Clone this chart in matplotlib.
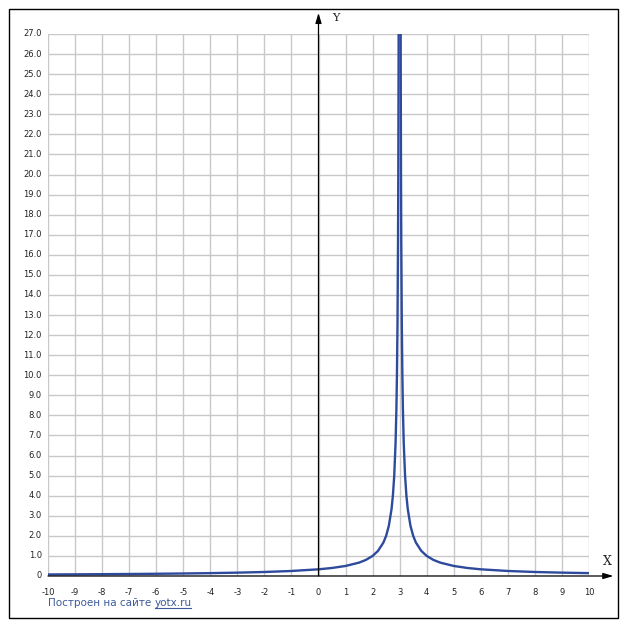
import matplotlib
matplotlib.use("Agg")
import matplotlib.pyplot as plt
from matplotlib.lines import Line2D
from matplotlib.patches import Rectangle

# points (left branch, then right branch of the spike at x=3)
x_left = [-10, -9, -8, -7, -6, -5, -4, -3, -2, -1, 0, 0.5, 1, 1.5, 1.75, 2,
          2.2, 2.4, 2.5, 2.6, 2.7, 2.75, 2.8, 2.85, 2.88, 2.9, 2.92, 2.94,
          2.95, 2.96, 2.963]
y_left = [0.077, 0.083, 0.091, 0.1, 0.111, 0.125, 0.143, 0.167, 0.2, 0.25,
          0.333, 0.4, 0.5, 0.667, 0.8, 1.0, 1.25, 1.667, 2.0, 2.5, 3.333, 4.0,
          5.0, 6.667, 8.333, 10.0, 12.5, 16.667, 20.0, 25.0, 27.0]
x_right = [3.037, 3.04, 3.05, 3.06, 3.08, 3.1, 3.12, 3.15, 3.2, 3.25, 3.3,
           3.4, 3.5, 3.6, 3.8, 4, 4.25, 4.5, 5, 5.5, 6, 7, 8, 9, 10]
y_right = [27.0, 25.0, 20.0, 16.667, 12.5, 10.0, 8.333, 6.667, 5.0, 4.0,
           3.333, 2.5, 2.0, 1.667, 1.25, 1.0, 0.8, 0.667, 0.5, 0.4, 0.333,
           0.25, 0.2, 0.167, 0.143]

x_ticks = list(range(-10, 11))
y_ticks = list(range(0, 28))
x_labels = [str(v) for v in x_ticks]
y_labels = ["0"] + ["%.1f" % v for v in y_ticks[1:]]

W, H = 627, 630
fig = plt.figure(figsize=(W / 100, H / 100), dpi=100)
fig.patch.set_facecolor("white")

# outer frame
fig.patches.append(Rectangle((9 / W, 12 / H), 609 / W, 609 / H,
                             transform=fig.transFigure, fill=False,
                             edgecolor="black", linewidth=1.0))

ax = fig.add_axes([48 / W, 54 / H, 541 / W, 542 / H])
ax.set_xlim(-10, 10)
ax.set_ylim(0, 27)
for s in ax.spines.values():
    s.set_visible(False)
ax.set_xticks(x_ticks)
ax.set_yticks(y_ticks)
ax.tick_params(length=0)
ax.set_xticklabels([])
ax.set_yticklabels([])
ax.grid(True, color="#c8c8c8", linewidth=1.0)
ax.set_axisbelow(True)

# tick labels
for v, lab in zip(x_ticks, x_labels):
    ax.annotate(lab, xy=(v, 0), xytext=(0, -12), textcoords="offset points",
                ha="center", va="center", fontsize=6, color="#222222",
                annotation_clip=False)
for v, lab in zip(y_ticks, y_labels):
    ax.annotate(lab, xy=(-10, v), xytext=(-4.5, 0), textcoords="offset points",
                ha="right", va="center", fontsize=6, color="#222222",
                annotation_clip=False)

# axes with arrows
ax.annotate("", xy=(0, 28.05), xytext=(0, 0),
            arrowprops=dict(arrowstyle="-|>,head_length=0.6,head_width=0.18",
                            color="black", lw=0.9, shrinkA=0, shrinkB=0),
            annotation_clip=False)
ax.annotate("", xy=(10.9, 0), xytext=(-10, 0),
            arrowprops=dict(arrowstyle="-|>,head_length=0.6,head_width=0.18",
                            color="black", lw=0.9, shrinkA=0, shrinkB=0),
            annotation_clip=False)
ax.text(0.5, 27.8, "Y", fontsize=8, family="DejaVu Serif", color="#222222",
        ha="left", va="center", clip_on=False)
ax.text(10.68, 0.7, "X", fontsize=9, family="DejaVu Serif", color="#222222",
        ha="center", va="center", clip_on=False)

# curve
ax.plot(x_left, y_left, color="#2d4a9c", linewidth=1.7, solid_capstyle="butt")
ax.plot(x_right, y_right, color="#2d4a9c", linewidth=1.7, solid_capstyle="butt")

# footer
t1 = fig.text(48 / W, 1 - 603 / H, "Построен на сайте ", fontsize=7.5,
              color="#3c5a9a", ha="left", va="center")
t2 = fig.text(0, 0, "yotx.ru", fontsize=7.5, color="#3c5a9a",
              ha="left", va="center")
fig.canvas.draw()
bb1 = t1.get_window_extent()
t2.set_position((bb1.x1 / W, 1 - 603 / H))
fig.canvas.draw()
bb2 = t2.get_window_extent()
fig.lines.append(Line2D([bb2.x0 / W, (bb2.x1 - 1) / W],
                        [(bb2.y0 + 0.5) / H, (bb2.y0 + 0.5) / H],
                        transform=fig.transFigure, color="#3c5a9a",
                        linewidth=0.8))

fig.savefig("out.png", dpi=100)
